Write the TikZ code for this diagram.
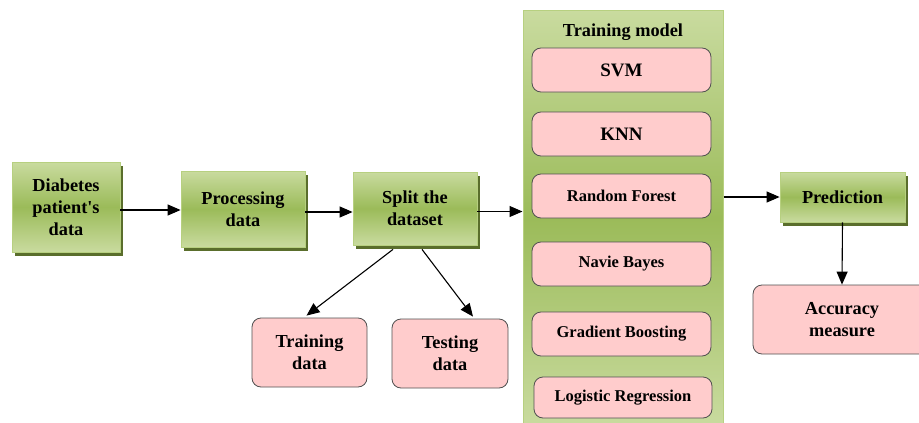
\documentclass[tikz,border=0pt]{standalone}
\usepackage{fontspec}
\setmainfont{Liberation Serif}[Ligatures=TeXOff]
\usetikzlibrary{arrows.meta,shadows}

\definecolor{grnlight}{HTML}{C9DB9F}
\definecolor{grnmid}{HTML}{9BBB59}
\definecolor{grnline}{HTML}{B7D080}
\definecolor{grnshadow}{HTML}{5A6E2C}
\definecolor{pinkfill}{HTML}{FFCCCC}
\definecolor{pinkline}{HTML}{505050}

\begin{document}
\begin{tikzpicture}[x=1pt,y=-1pt,
  font=\bfseries\fontsize{18.3}{22}\selectfont,
  gblk/.style={draw=grnline,line width=0.8pt,top color=grnlight,bottom color=grnlight,middle color=grnmid,
    align=center,inner sep=2pt,
    general shadow={fill=grnshadow,shadow xshift=3pt,shadow yshift=-4pt}},
  pblk/.style={draw=pinkline,fill=pinkfill,rounded corners=9pt,line width=0.8pt,align=center,inner sep=2pt},
  mdl/.style={pblk,minimum width=179pt,minimum height=44pt,font=\bfseries\fontsize{16.5}{20}\selectfont},
  arr/.style={-{Triangle[length=13pt,width=11pt]},line width=1.1pt}]
  \useasboundingbox (0,0) rectangle (919,423);
  % column of training models
  \node[draw=grnline,line width=1pt,top color=grnlight,bottom color=grnlight,middle color=grnmid,
    minimum width=200pt,minimum height=416pt,inner sep=0pt](col) at (623,218){};
  \node(ttl) at (623,32){Training model};
  \node[mdl,font=\bfseries\fontsize{19}{22}\selectfont](svm) at (621.5,70){SVM};
  \node[mdl,font=\bfseries\fontsize{19}{22}\selectfont](knn) at (621.5,134){KNN};
  \node[mdl](rf) at (621.5,196){Random Forest};
  \node[mdl](nb) at (621.5,264){Navie Bayes};
  \node[mdl](gb) at (621.5,334){Gradient Boosting};
  \node[mdl,minimum width=178pt,minimum height=41pt](lr) at (623,397.5){Logistic Regression};
  % main flow
  \node[gblk,minimum width=108pt,minimum height=90pt](diab) at (66,207){Diabetes\\patient's\\data};
  \node[gblk,minimum width=124pt,minimum height=76pt](proc) at (243,209){Processing\\data};
  \node[gblk,minimum width=124pt,minimum height=73pt](split) at (415,208.5){Split the\\dataset};
  \node[gblk,minimum width=125pt,minimum height=50pt](pred) at (842.5,197){Prediction};
  \node[pblk,minimum width=115pt,minimum height=69pt](trn) at (309.5,352.5){Training\\data};
  \node[pblk,minimum width=116pt,minimum height=69pt](tst) at (450,353.5){Testing\\data};
  \node[pblk,minimum width=178pt,minimum height=69pt](acc) at (842,319.5){Accuracy\\measure};
  % connectors
  \draw[arr]([yshift=-3pt]diab.east)--([yshift=-3pt]diab.east -| proc.west);
  \draw[arr]([yshift=-3pt]proc.east)--([yshift=-3pt]proc.east -| split.west);
  \draw[arr]([yshift=-3pt]split.east)--([yshift=-3pt]split.east -| col.west);
  \draw[arr](pred.west -| col.east)--(pred.west);
  \draw[arr](pred.south)--(acc.north);
  \draw[arr]([xshift=-22pt,yshift=-4pt]split.south)--([xshift=-3pt,yshift=2pt]trn.north);
  \draw[arr]([xshift=7pt,yshift=-4pt]split.south)--([xshift=23pt,yshift=2pt]tst.north);
\end{tikzpicture}
\end{document}
